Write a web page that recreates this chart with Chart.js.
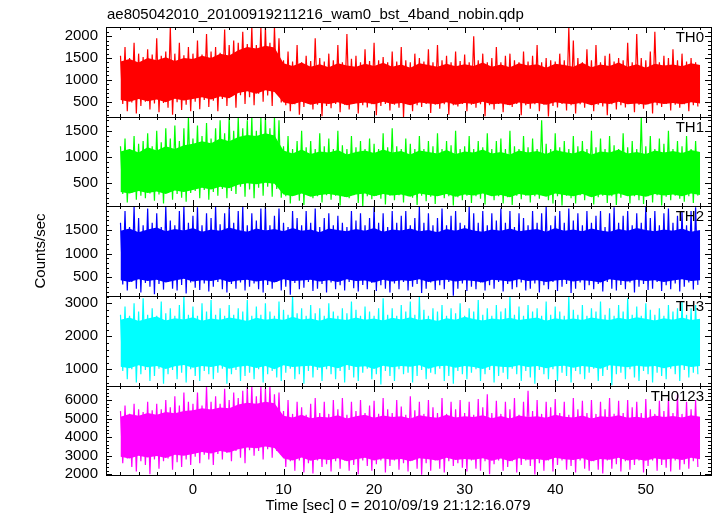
<!DOCTYPE html>
<html>
<head>
<meta charset="utf-8">
<script src="https://cdn.jsdelivr.net/npm/chart.js@4.4.0/dist/chart.umd.min.js"></script>
<style>
    html, body { margin: 0; padding: 0; background: #fff; }
    #wrap { position: relative; width: 717px; height: 516px; }
    #wrap canvas { position: absolute; left: 0; top: 0; }
</style>
</head>
<body>
<div id="wrap">
    <canvas id="c0" width="717" height="516"></canvas>
    <canvas id="c1" width="717" height="516"></canvas>
    <canvas id="c2" width="717" height="516"></canvas>
    <canvas id="c3" width="717" height="516"></canvas>
    <canvas id="c4" width="717" height="516"></canvas>
</div>
<script>
const TITLE = 'ae805042010_20100919211216_wam0_bst_4band_nobin.qdp';
const X_TITLE = 'Time [sec] 0 = 2010/09/19 21:12:16.079';
const Y_TITLE = 'Counts/sec';

const T0 = -8;        // start of first bin [sec]
const BIN = 0.5;      // spike envelope bins (max, min per bin)
const CORE_BIN = 1;   // dense-core bins
const X_MIN = -9.6;
const X_MAX = 57.2;
const X_TICKS = [0, 10, 20, 30, 40, 50];

// TH0
const th0Hi = [1550,1750,1500,1850,1600,1520,1700,1580,1950,1550,1650,2200,1600,1850,1560,1750,
    1600,1900,1580,2050,1650,1750,1620,2150,1800,1900,1850,2100,1820,2210,1800,2210,2210,1850,2210,1950,
    1450,1650,1420,1800,1400,1550,1430,1950,1500,1420,1600,1450,1800,1400,2050,1480,1550,1400,1700,1430,
    1850,1450,1520,1400,1650,1420,1750,1450,1400,1600,1500,1420,1700,1400,1800,1450,1550,1400,1650,1430,
    1580,1400,2000,1450,1600,1400,1500,1750,1400,1550,1600,1450,1400,1650,1420,1550,1800,1400,1500,1450,
    1420,1600,1450,2200,1900,1500,1400,1700,1450,1800,1400,1550,1600,1420,1500,1450,1850,1400,2050,1500,
    1450,1650,2100,1400,1550,1500,1700,1450,1600,1420,1500,1400];
const th0Lo = [450,280,480,230,400,500,320,460,260,470,360,200,490,310,430,280,
    500,330,540,380,520,280,560,400,620,360,650,450,600,420,680,500,640,400,700,480,
    420,280,440,200,380,450,320,430,170,400,350,450,260,430,320,450,230,420,370,440,
    190,400,450,300,430,360,150,440,280,420,380,450,240,430,340,440,200,420,390,450,
    280,430,360,440,170,420,320,450,260,430,380,450,190,420,340,440,280,430,160,400,
    370,450,300,420,230,440,360,450,280,430,390,190,440,320,420,370,450,260,430,340,
    440,230,420,380,450,300,430,360,440,280,420,390];
const th0CoreHi = [1420,1480,1400,1500,1450,1520,1430,1500,1480,1550,1500,1600,1560,1680,1750,1720,1780,1740,
    1380,1320,1400,1300,1360,1290,1380,1330,1300,1370,1320,1390,1300,1350,1280,1380,1340,1300,1370,1310,
    1360,1320,1400,1300,1350,1290,1380,1330,1360,1280,1370,1340,1300,1390,1290,1350,1320,1400,1300,1360,
    1280,1370,1330,1350,1310,1380,1340];
const th0CoreLo = [540,500,560,510,550,490,570,530,560,600,550,620,580,700,740,680,760,720,
    480,440,500,430,470,450,490,420,460,480,440,500,450,470,420,480,460,440,490,430,
    470,450,500,440,460,420,480,450,470,430,490,460,440,480,420,470,450,500,440,460,
    430,480,450,470,440,490,460];
const th0Ticks = [500, 1000, 1500, 2000];

// TH1
const th1Hi = [1200,1350,1150,1400,1250,1300,1450,1200,1500,1280,1550,1350,1600,1300,1550,1760,
    1350,1600,1400,1650,1350,1550,1700,1450,1760,1500,1760,1550,1700,1760,1500,1750,1760,1550,1760,1700,
    1200,1400,1150,1300,1500,1180,1300,1150,1450,1200,1350,1150,1500,1220,1150,1400,1180,1300,1150,1350,
    1250,1150,1450,1180,1550,1200,1150,1350,1250,1150,1400,1150,1300,1200,1450,1150,1300,1220,1500,1150,
    1200,1400,1150,1300,1180,1450,1150,1300,1350,1150,1500,1200,1150,1400,1180,1350,1150,1700,1250,1150,
    1450,1180,1300,1150,1400,1200,1300,1150,1500,1180,1350,1150,1400,1220,1150,1450,1180,1300,1150,1760,
    1200,1400,1150,1350,1250,1500,1150,1300,1200,1400,1150,1300];
const th1Lo = [280,120,300,170,250,200,290,150,270,100,300,170,280,210,130,300,
    340,200,360,170,320,250,380,200,340,280,420,230,370,200,400,250,420,230,380,210,
    240,100,260,150,70,250,200,240,120,260,170,250,60,230,200,260,110,50,240,180,
    250,190,80,250,160,260,120,240,210,70,250,140,230,90,260,200,240,60,220,160,
    250,110,240,190,80,260,160,240,100,220,70,250,180,250,120,240,190,260,160,100,
    240,60,250,200,100,260,160,240,80,220,250,110,240,70,210,260,100,240,160,90,
    240,120,260,60,230,160,250,190,130,240,110,250];
const th1CoreHi = [1100,1150,1080,1180,1120,1200,1150,1220,1250,1300,1260,1350,1300,1380,1420,1400,1450,1410,
    1120,1060,1140,1050,1100,1080,1130,1040,1090,1120,1070,1140,1080,1110,1040,1120,1090,1060,1130,1050,
    1100,1080,1140,1060,1090,1040,1120,1080,1110,1050,1130,1090,1060,1120,1040,1100,1080,1140,1060,1090,
    1050,1120,1080,1110,1070,1130,1090];
const th1CoreLo = [320,290,340,300,330,280,350,320,360,400,370,420,390,460,490,470,500,480,
    270,240,290,230,260,280,250,220,270,290,240,280,250,270,230,290,260,240,280,230,
    270,250,290,240,260,220,280,250,270,230,290,260,240,280,220,270,250,290,240,260,
    230,280,250,270,240,290,260];
const th1Ticks = [500, 1000, 1500];

// TH2
const th2Hi = [1650,1900,1560,2000,1750,1600,1950,1650,1850,1560,2000,1700,1600,1900,2000,1650,1800,1980,1600,1850,
    1750,2000,1620,1850,1980,1650,1900,2000,1600,1850,1700,1950,2000,1600,1800,1950,1650,1560,1900,1750,
    1600,1900,1650,1950,1560,1750,1850,1600,1800,1650,1560,1900,1700,1850,1600,1750,1980,1650,1850,1560,
    1900,1650,1800,1900,1600,1750,2000,1650,1850,1600,1750,1950,1600,1800,1900,1650,1600,2000,1850,1650,
    1900,1600,1850,1700,1950,1650,1900,1560,1850,1750,1600,1900,1650,1850,2000,1600,1800,1900,1650,1950,
    1700,1850,1600,1900,1650,1800,1900,1560,1850,1980,1650,1800,1900,1600,1850,1650,2000,1750,1900,1600,
    1850,1950,1650,1800,1900,1600,1900,1980];
const th2Lo = [350,220,400,260,180,380,300,140,360,240,400,260,220,340,160,390,280,230,370,200,
    300,400,250,180,360,260,390,220,300,370,250,180,340,260,400,220,300,130,380,250,
    280,400,210,260,360,180,390,250,330,220,400,270,200,340,250,380,210,330,260,180,
    370,250,400,220,300,360,170,260,390,230,330,250,400,110,260,370,210,300,250,390,
    220,330,260,400,200,360,250,290,390,220,260,370,180,330,250,400,210,300,360,170,
    260,390,230,330,250,360,200,400,260,220,340,250,390,180,300,360,230,260,400,210,
    330,250,370,200,300,390,240,340];
const th2CoreHi = [1480,1530,1450,1510,1550,1470,1520,1490,1540,1460,1510,1480,1550,1500,1460,1530,1490,1520,
    1470,1540,1480,1510,1450,1530,1500,1470,1520,1480,1540,1460,1510,1490,1530,1470,1500,1450,
    1520,1480,1540,1490,1460,1510,1480,1530,1470,1500,1520,1460,1540,1480,1510,1470,1530,1490,
    1460,1520,1480,1540,1500,1470,1510,1480,1530,1460,1500];
const th2CoreLo = [440,400,460,420,450,390,430,470,410,440,420,460,400,430,450,410,440,390,
    460,420,430,450,410,440,400,460,420,430,390,450,410,440,420,460,400,430,
    450,410,440,420,390,450,430,410,460,420,440,400,430,450,410,440,420,390,
    460,430,410,450,420,440,400,430,460,420,440];
const th2Ticks = [500, 1000, 1500];

// TH3
const th3Hi = [2650,2900,2620,3000,2750,3150,2650,2850,2620,3050,2700,2850,2620,2950,3220,2650,2900,2620,3000,2750,
    3100,2650,2850,2620,2950,2650,2850,2750,3100,2620,2900,2650,3000,2750,2620,3050,2800,2650,3220,2700,
    2850,2620,2950,2700,2850,2620,3000,2750,2620,2850,2700,3050,2800,2620,2900,2750,2620,2850,3150,2650,
    2850,2620,2950,2750,3050,2650,3220,2800,2620,2850,2750,2950,2620,2850,2700,3000,2620,2850,2750,3100,
    2650,2850,2620,2950,2750,2850,3220,2650,2900,2620,2950,2750,2850,2620,3050,2650,2900,2750,2620,3220,
    2800,2650,2950,2620,2850,2750,3050,2650,2850,2620,2950,2750,3150,2650,2900,2620,3000,2800,2650,2850,
    2620,2950,2750,2850,3050,2650,2850,2950];
const th3Lo = [950,700,1000,600,850,980,650,800,1020,560,850,980,700,900,600,1000,800,650,950,850,
    700,900,1020,560,850,980,650,800,900,700,1000,600,850,950,750,650,900,1020,700,850,
    560,950,750,980,650,1000,850,700,950,600,980,750,650,900,1020,700,850,540,950,800,
    650,1000,850,900,600,800,980,700,900,850,1020,650,800,560,950,850,700,900,1000,650,
    850,980,600,800,900,700,1020,850,650,950,750,560,980,850,700,1000,650,900,800,600,
    950,850,700,900,1020,650,800,980,520,850,900,700,1000,750,650,950,850,600,900,800,
    700,1020,850,650,980,750,900,850];
const th3CoreHi = [2500,2570,2460,2540,2600,2480,2550,2510,2580,2470,2540,2500,2570,2520,2460,2560,2500,2540,
    2490,2590,2510,2540,2470,2560,2520,2490,2570,2500,2540,2480,2560,2510,2580,2490,2530,2460,
    2550,2500,2590,2520,2480,2540,2510,2560,2490,2530,2570,2470,2550,2500,2540,2490,2570,2520,
    2490,2560,2510,2580,2530,2480,2550,2500,2570,2490,2530];
const th3CoreLo = [1080,1030,1120,1060,1100,1010,1090,1130,1050,1100,1070,1120,1020,1080,1110,1040,1100,1000,
    1120,1070,1090,1110,1050,1100,1030,1130,1070,1090,1010,1110,1060,1100,1080,1120,1020,1090,
    1110,1050,1100,1070,1010,1110,1080,1060,1120,1070,1100,1030,1090,1110,1050,1100,1070,1020,
    1120,1090,1060,1110,1080,1100,1030,1090,1120,1070,1100];
const th3Ticks = [1000, 2000, 3000];

// TH0123
const th0123Hi = [5400,5700,5250,5800,5500,5350,5900,5450,5800,5500,6000,5600,6200,5700,6400,5900,
    5800,6400,5700,6750,5900,6200,5800,6600,6000,6400,6100,6500,6700,6750,6200,6750,6600,6750,6300,6400,
    5400,6000,5250,5900,5600,5200,5800,6100,5300,5900,5250,6000,5500,6100,5200,5900,5400,6000,5300,5700,
    5950,5250,6100,5500,5300,6000,5650,5200,6200,5450,5900,5250,6000,5600,5300,6100,5250,5900,5500,6000,
    5300,5900,5200,6050,5600,6300,5300,5950,5250,5900,5500,6100,5200,5900,6500,5400,6000,5250,5900,5600,
    6050,5300,5900,5200,6100,5500,5950,5300,6000,5250,5900,5500,6100,5250,5950,5300,6000,5600,5900,5300,
    6050,5500,5250,5950,5400,6100,5300,6300,5250,5900,5500,6000];
const th0123Lo = [2600,2850,2400,2150,2700,2500,2000,2800,2300,2700,2850,2250,2650,2400,2800,2500,
    2950,2600,3050,2800,2500,3100,2800,3150,2700,3250,2900,2600,3300,3000,3250,2800,3350,2900,3250,3050,
    2400,2700,2200,2750,2100,2600,2050,2750,2400,2550,2150,2700,2300,2750,2200,2500,2000,2750,2450,2200,
    2550,2750,2100,2450,2750,2250,2600,2150,2750,2300,1980,2600,2200,2750,2300,2100,2700,2450,2600,2350,
    2150,2750,2300,2200,2700,2000,2550,2750,2200,2400,2700,2100,2500,2750,2450,1990,2600,2200,2750,2150,
    2500,2750,2250,2450,2100,2750,2300,2200,2700,2250,2050,2750,2300,2550,2150,2700,2250,2500,2750,2100,
    2450,2750,2200,2500,2350,2150,2750,2250,2550,2300,2700,2400];
const th0123CoreHi = [5100,5250,5150,5300,5200,5350,5280,5400,5450,5550,5480,5600,5550,5750,5850,5800,5900,5820,
    5150,5050,5200,5020,5100,5060,5180,5000,5120,5200,5040,5160,5080,5120,5000,5180,5100,5040,5200,5060,
    5120,5080,5180,5020,5140,5000,5160,5080,5120,5040,5200,5100,5060,5160,5000,5120,5080,5180,5040,5100,
    5020,5160,5080,5140,5060,5180,5100];
const th0123CoreLo = [2950,2850,3000,2900,2980,2880,3050,3000,3100,3200,3120,3250,3180,3350,3450,3400,3500,3420,
    2850,2750,2900,2730,2830,2770,2870,2700,2810,2890,2750,2850,2790,2830,2710,2870,2810,2750,2890,2770,
    2830,2790,2870,2730,2850,2710,2870,2790,2830,2750,2890,2810,2770,2870,2710,2830,2790,2890,2750,2810,
    2730,2870,2790,2850,2770,2890,2810];
const th0123Ticks = [2000, 3000, 4000, 5000, 6000];

const PANEL_EDGES = [27, 117, 206, 296, 386, 475];
const FONT = '"Liberation Sans", Arial, Helvetica, sans-serif';

const panels = [
    { name: 'TH0', color: '#ff0000', hi: th0Hi, lo: th0Lo, coreHi: th0CoreHi, coreLo: th0CoreLo, ticks: th0Ticks, min: 150, max: 2210, minor: 100 },
    { name: 'TH1', color: '#00ff00', hi: th1Hi, lo: th1Lo, coreHi: th1CoreHi, coreLo: th1CoreLo, ticks: th1Ticks, min: 50, max: 1765, minor: 100 },
    { name: 'TH2', color: '#0000ff', hi: th2Hi, lo: th2Lo, coreHi: th2CoreHi, coreLo: th2CoreLo, ticks: th2Ticks, min: 105, max: 2005, minor: 100 },
    { name: 'TH3', color: '#00ffff', hi: th3Hi, lo: th3Lo, coreHi: th3CoreHi, coreLo: th3CoreLo, ticks: th3Ticks, min: 495, max: 3220, minor: 200 },
    { name: 'TH0123', color: '#ff00ff', hi: th0123Hi, lo: th0123Lo, coreHi: th0123CoreHi, coreLo: th0123CoreLo, ticks: th0123Ticks, min: 1965, max: 6750, minor: 200 },
];

function zigzag(hi, lo) {
    const pts = [];
    hi.forEach((h, i) => {
        const t = T0 + i * BIN;
        pts.push({ x: t, y: h });
        if (i < lo.length) pts.push({ x: t + BIN / 2, y: lo[i] });
    });
    return pts;
}

function corePoints(values) {
    return values.map((v, i) => ({ x: T0 + i * CORE_BIN, y: v }));
}

// frame, inward ticks on all four sides, panel name and free text
const framePlugin = {
    id: 'frame',
    afterDraw(chart, args, opts) {
        const { ctx, chartArea: a } = chart;
        const xs = chart.scales.x;
        const ys = chart.scales.y;
        ctx.save();
        ctx.strokeStyle = '#000';
        ctx.lineWidth = 1;
        ctx.strokeRect(a.left + 0.5, a.top + 0.5, a.right - a.left, a.bottom - a.top);

        ctx.beginPath();
        for (let v = Math.ceil(xs.min / 2) * 2; v <= xs.max; v += 2) {
            const px = Math.round(xs.getPixelForValue(v)) + 0.5;
            const len = v % 10 === 0 ? 6 : 3;
            ctx.moveTo(px, a.top);
            ctx.lineTo(px, a.top + len);
            ctx.moveTo(px, a.bottom);
            ctx.lineTo(px, a.bottom - len);
        }
        for (let v = Math.ceil(ys.min / opts.minor) * opts.minor; v <= ys.max; v += opts.minor) {
            const py = Math.round(ys.getPixelForValue(v)) + 0.5;
            const len = opts.ticks.includes(v) || v % (opts.minor * 5) === 0 ? 6 : 3;
            ctx.moveTo(a.left, py);
            ctx.lineTo(a.left + len, py);
            ctx.moveTo(a.right, py);
            ctx.lineTo(a.right - len, py);
        }
        ctx.stroke();

        ctx.fillStyle = '#000';
        ctx.font = '15px ' + FONT;
        ctx.textBaseline = 'middle';
        ctx.textAlign = 'right';
        ctx.fillText(opts.name, a.right - 7, a.top + 11);
        if (opts.title) {
            ctx.textAlign = 'left';
            ctx.fillText(opts.title, 107, 15);
        }
        if (opts.xTitle) {
            ctx.textAlign = 'center';
            ctx.fillText(opts.xTitle, 398, 506);
        }
        ctx.restore();
    },
};

Chart.defaults.font.family = FONT;
Chart.defaults.font.size = 15;
Chart.defaults.color = '#000';

panels.forEach((p, k) => {
    const top = PANEL_EDGES[k];
    const bottom = PANEL_EDGES[k + 1];
    const isBottom = k === panels.length - 1;

    new Chart(document.getElementById('c' + k), {
        type: 'line',
        data: {
            datasets: [
                { data: zigzag(p.hi, p.lo), borderColor: p.color, borderWidth: 1.2, pointRadius: 0, fill: false },
                { data: corePoints(p.coreLo), borderWidth: 0, borderColor: p.color, pointRadius: 0, fill: false },
                { data: corePoints(p.coreHi), borderWidth: 0, borderColor: p.color, backgroundColor: p.color, pointRadius: 0, fill: '-1' },
            ],
        },
        options: {
            responsive: false,
            animation: false,
            events: [],
            layout: { padding: { left: 0, right: 6, top: top, bottom: isBottom ? 0 : 516 - bottom } },
            plugins: {
                legend: { display: false },
                tooltip: { enabled: false },
                frame: {
                    name: p.name,
                    ticks: p.ticks,
                    minor: p.minor,
                    title: k === 0 ? TITLE : null,
                    xTitle: isBottom ? X_TITLE : null,
                },
            },
            scales: {
                x: {
                    type: 'linear',
                    min: X_MIN,
                    max: X_MAX,
                    display: isBottom,
                    afterFit: (s) => { s.height = isBottom ? 41 : 0; },
                    afterBuildTicks: (s) => { s.ticks = X_TICKS.map((v) => ({ value: v })); },
                    grid: { display: false, drawTicks: false },
                    border: { display: false },
                    ticks: { padding: 6, maxRotation: 0, autoSkip: false, callback: (v) => String(v) },
                },
                y: {
                    min: p.min,
                    max: p.max,
                    afterFit: (s) => { s.width = 106; },
                    afterBuildTicks: (s) => { s.ticks = p.ticks.map((v) => ({ value: v })); },
                    grid: { display: false, drawTicks: false },
                    border: { display: false },
                    ticks: { padding: 8, autoSkip: false, callback: (v) => String(v) },
                    title: {
                        display: k === 2,
                        text: Y_TITLE,
                        padding: { top: 32, bottom: 0 },
                    },
                },
            },
        },
        plugins: [framePlugin],
    });
});
</script>
</body>
</html>
